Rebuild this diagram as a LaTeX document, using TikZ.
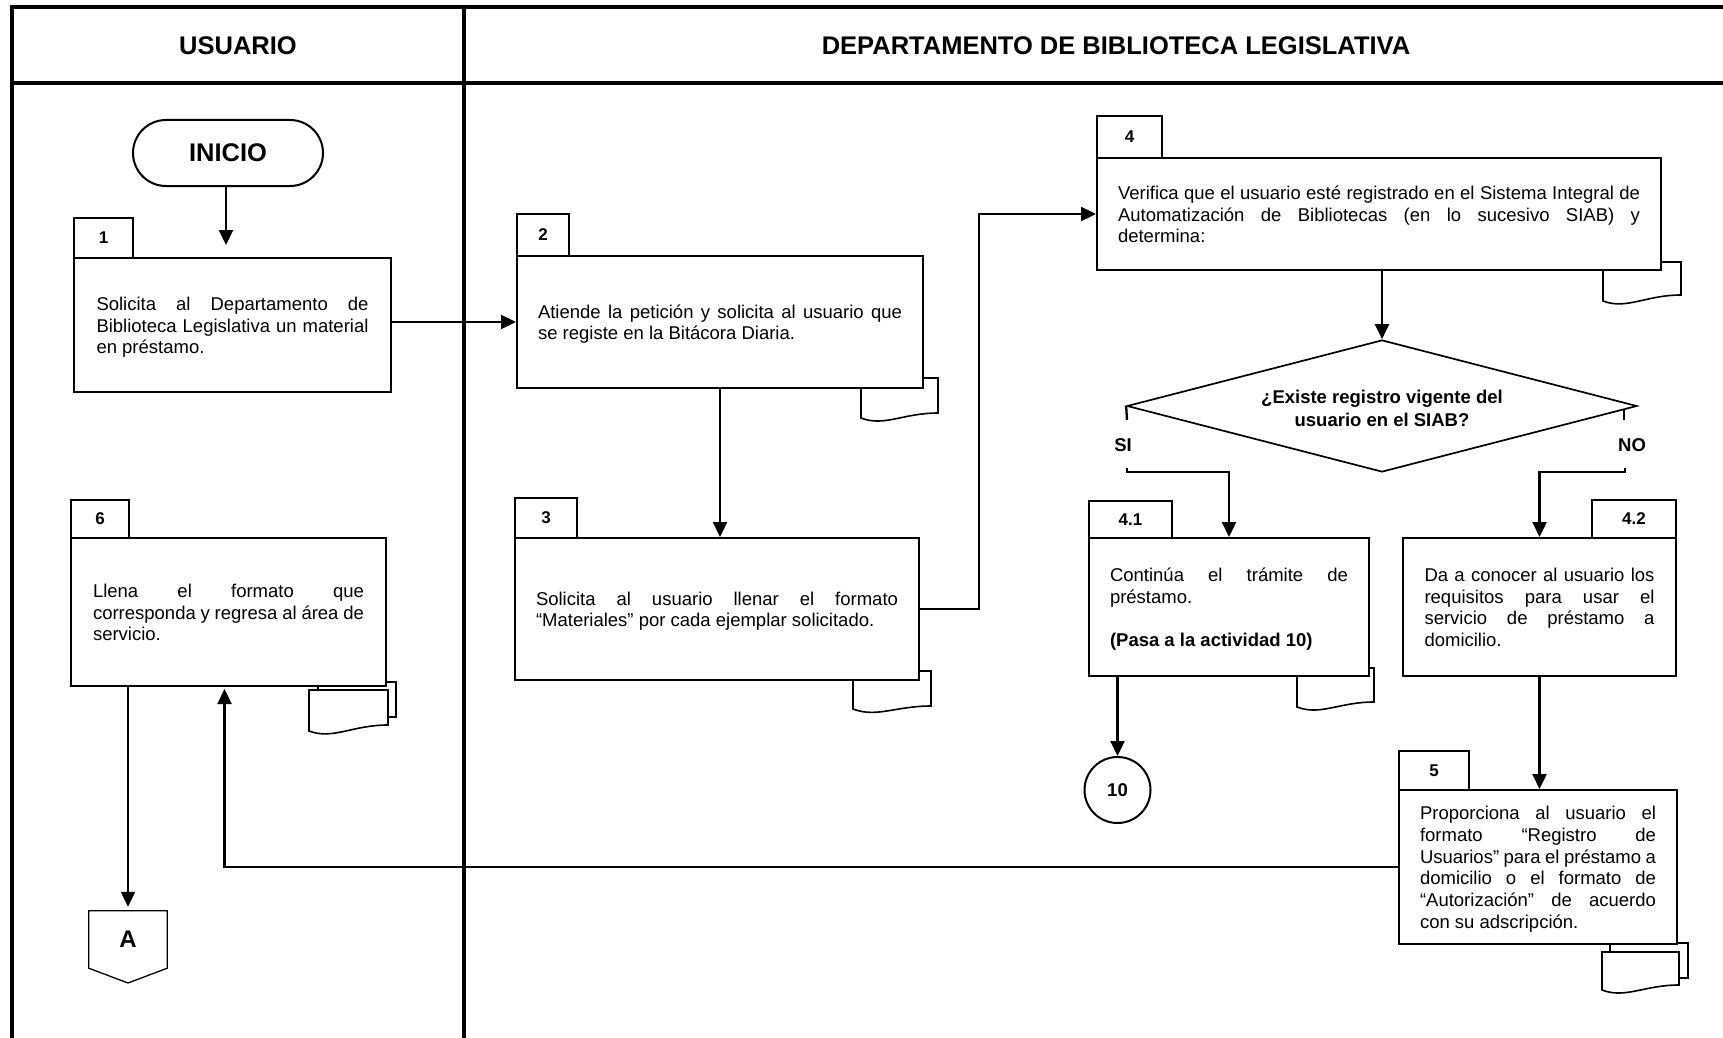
\documentclass[tikz,border=0pt]{standalone}
\usepackage{fontspec}
\setmainfont{Liberation Sans}
\usetikzlibrary{arrows.meta,shapes.geometric}
\newcommand\JLine[2]{\makebox[#1pt][s]{#2}}
\newcommand\LLine[2]{\makebox[#1pt][l]{#2}}
\newcommand\fs{\rule{0pt}{19pt}}
\newcommand\lsx{\rule[-5pt]{0pt}{5pt}}
\newcommand\bodyf{\fontsize{18.5}{21.8}\selectfont}
\newcommand\tabf{\fontsize{17}{20}\selectfont\bfseries}
\newcommand\hdrf{\fontsize{25.5}{30}\selectfont\bfseries}
\newcommand\lblf{\fontsize{18.5}{22}\selectfont\bfseries}
\newcommand\docshape[5]{%
  \draw[doc] (#1,#3) -- (#2,#3) -- (#2,#4)
    .. controls ({#1+0.55*(#2-#1)},#4) and ({#1+0.3*(#2-#1)},{#5+9}) .. (#1,#5) -- cycle;}
\tikzset{
  frame/.style={line width=3.2},
  box/.style={draw, line width=2, fill=white, inner sep=0pt, align=left, font=\bodyf},
  tabbox/.style={draw, line width=1.3, fill=white, inner sep=0pt, font=\tabf},
  doc/.style={draw, line width=1.6, fill=white},
  conn/.style={line width=2.3},
  arr/.style={conn, -{Triangle[length=15pt,width=14pt]}},
  hdr/.style={font=\hdrf, inner sep=0pt},
  lbl/.style={font=\lblf, inner sep=0pt},
}
\begin{document}
\begin{tikzpicture}[x=1pt,y=-1pt]
\useasboundingbox (0,0) rectangle (1723,1038);
\fill[white] (0,0) rectangle (1723,1038);
% frame
\draw[frame] (10.4,7) -- (1723,7);
\draw[frame] (10.4,83) -- (1723,83);
\draw[frame] (12,5.4) -- (12,1038);
\draw[frame] (464,5.4) -- (464,1038);
\node[hdr] (hu) at (238,46) {USUARIO};
\node[hdr] (hd) at (1116,46) {DEPARTAMENTO DE BIBLIOTECA LEGISLATIVA};

% documents (behind boxes)
\docshape{861}{938}{378}{413}{418}
\docshape{853}{931}{671}{706}{709}
\docshape{1603}{1681}{262}{295}{301}
\docshape{1297}{1374}{668}{702}{707}
\draw[doc] (1610,943) rectangle (1688,978);
\docshape{1602}{1679}{952}{985}{990}
\draw[doc] (318,682) rectangle (396,717);
\docshape{309}{388}{690}{725}{731}

% tabs
\node[tabbox, minimum width=59, minimum height=40] (t1) at (103.5,238) {1};
\node[tabbox, minimum width=52, minimum height=42] (t2) at (543,235) {2};
\node[tabbox, minimum width=62, minimum height=40] (t3) at (546,518) {3};
\node[tabbox, minimum width=65, minimum height=42] (t4) at (1129.5,137) {4};
\node[tabbox, minimum width=83, minimum height=37] (t41) at (1130.5,519.5) {4.1};
\node[tabbox, minimum width=84, minimum height=38] (t42) at (1634,519) {4.2};
\node[tabbox, minimum width=70, minimum height=39] (t5) at (1434,770.5) {5};
\node[tabbox, minimum width=58, minimum height=38] (t6) at (100,519) {6};

% boxes
\node[box, minimum width=317, minimum height=134] (b1) at (232.5,325) {%
\JLine{272}{\fs Solicita al Departamento de}\\
\JLine{272}{Biblioteca Legislativa un material}\\
\LLine{272}{\lsx en préstamo.}};
\node[box, minimum width=406, minimum height=132] (b2) at (720,322) {%
\JLine{364}{\fs Atiende la petición y solicita al usuario que}\\
\LLine{364}{\lsx se registe en la Bitácora Diaria.}};
\node[box, minimum width=404, minimum height=142] (b3) at (717,609) {%
\JLine{362}{\fs Solicita al usuario llenar el formato}\\
\LLine{362}{\lsx “Materiales” por cada ejemplar solicitado.}};
\node[box, minimum width=564, minimum height=112] (b4) at (1379,214) {%
\JLine{522}{\fs Verifica que el usuario esté registrado en el Sistema Integral de}\\
\JLine{522}{Automatización de Bibliotecas (en lo sucesivo SIAB) y}\\
\LLine{522}{\lsx determina:}};
\node[box, minimum width=280, minimum height=138] (b41) at (1229,607) {%
\JLine{238}{\fs Continúa el trámite de}\\
\LLine{238}{préstamo.}\\
\LLine{238}{}\\
\LLine{238}{\lsx\bfseries (Pasa a la actividad 10)}};
\node[box, minimum width=273, minimum height=138] (b42) at (1539.5,607) {%
\JLine{230}{\fs Da a conocer al usuario los}\\
\JLine{230}{requisitos para usar el}\\
\JLine{230}{servicio de préstamo a}\\
\LLine{230}{\lsx domicilio.}};
\node[box, minimum width=278, minimum height=154] (b5) at (1538,867) {%
\JLine{236}{\fs Proporciona al usuario el}\\
\JLine{236}{formato “Registro de}\\
\JLine{236}{Usuarios” para el préstamo a}\\
\JLine{236}{domicilio o el formato de}\\
\JLine{236}{“Autorización” de acuerdo}\\
\LLine{236}{\lsx con su adscripción.}};
\node[box, minimum width=315, minimum height=148] (b6) at (228.5,612) {%
\JLine{271}{\fs Llena el formato que}\\
\JLine{271}{corresponda y regresa al área de}\\
\LLine{271}{\lsx servicio.}};

% terminal, decision, connectors
\node[draw, line width=2, rectangle, rounded corners=33, minimum width=190, minimum height=66,
      inner sep=0pt, font=\hdrf] (inicio) at (228,153) {INICIO};
\node[diamond, draw, line width=1.7, fill=white, minimum width=510, minimum height=132,
      inner sep=0pt] (dia) at (1382,406) {};
\node[font=\lblf, align=center, inner sep=0pt] (diat) at (1382,408.5)
      {¿Existe registro vigente del\\[1pt] usuario en el SIAB?};
\node[circle, draw, line width=2, minimum size=66, inner sep=0pt, font=\lblf] (c10) at (1117.5,790) {10};
\node[minimum width=78, minimum height=57, inner sep=0pt, font=\fontsize{24}{28}\selectfont\bfseries]
      (aa) at (128,939.5) {A};
\draw[line width=1.3] (aa.north west) -- (aa.north east) -- (aa.south east)
      -- (128,983) -- (aa.south west) -- cycle;

\node[lbl] (si) at (1123,445) {SI};
\node[lbl] (no) at (1632,445) {NO};

% connectors
\draw[arr, shorten >=12pt] (inicio.south -| 226,0) -- (b1.north -| 226,0);
\draw[arr] (b1.east |- b2.west) -- (b2.west);
\draw[arr] (b2.south) -- (b2.south |- b3.north);
\draw[arr] (b3.east) -- ++(59,0) |- (b4.west);
\draw[arr] (b4.south -| dia.north) -- (dia.north);
\coordinate (siA) at (1127,420);
\coordinate (siB) at (1127,468);
\coordinate (noA) at (1624,420);
\coordinate (noB) at (1625,468);
\draw[conn] (dia.west) -- (siA);
\draw[conn] (noA) -- (1624,409.5);
\draw[arr] (siB) -- ++(0,4) -| (b41.north);
\draw[arr] (noB) -- ++(0,4) -| (b42.north);
\draw[arr] (c10.north |- b41.south) -- (c10.north);
\draw[arr] (b42.south) -- (b42.south |- b5.north);
\draw[arr, shorten >=2pt] (b5.west) -| ([xshift=-4pt]b6.south);
\draw[arr, shorten >=4pt] (b6.south -| aa.north) -- (aa.north);
\end{tikzpicture}
\end{document}
